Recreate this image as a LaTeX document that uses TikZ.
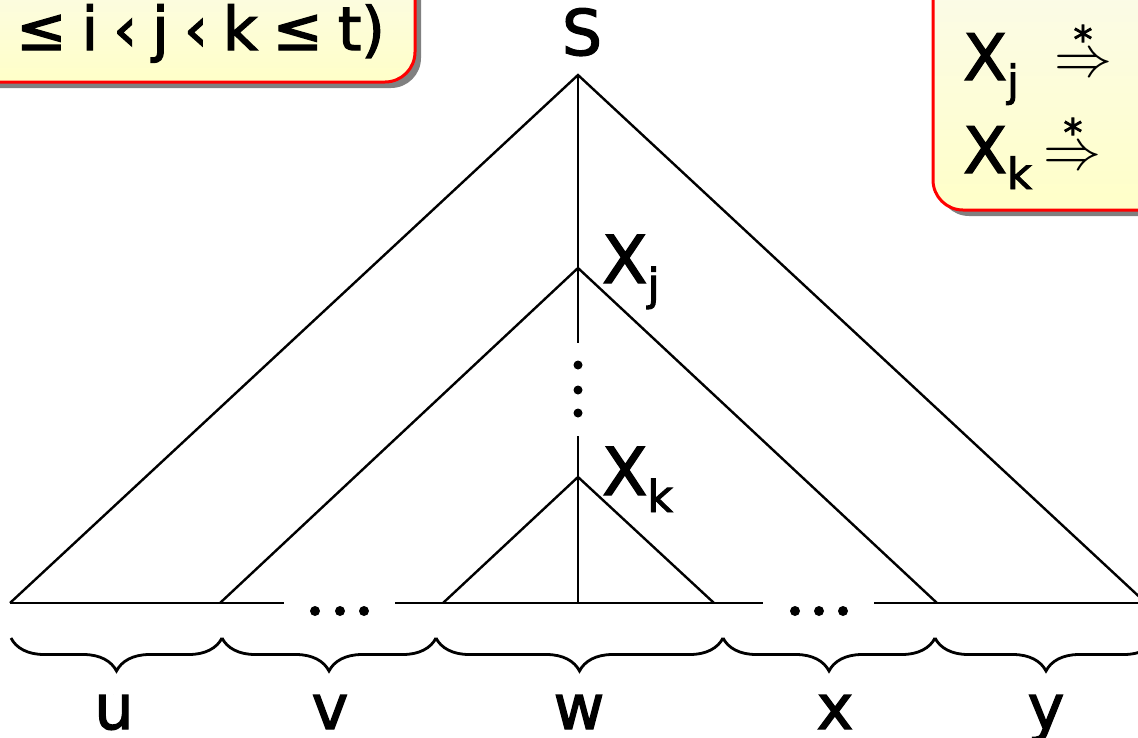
\documentclass[tikz,border=0pt]{standalone}
\usepackage{fontspec}
\setmainfont[FakeBold=2.2]{DejaVu Sans}
\usetikzlibrary{decorations.pathreplacing}
\definecolor{boxtop}{RGB}{250,250,238}
\definecolor{boxbot}{RGB}{255,255,200}
\definecolor{shadowgray}{RGB}{128,128,128}
\newcommand{\derivs}{\raisebox{4pt}{\scalebox{5.8}{\fontsize{10}{12}\selectfont$\Rightarrow$}}\llap{\makebox[58pt][c]{\raisebox{27pt}{\fontsize{38}{38}\selectfont *}}}}
\begin{document}
\begin{tikzpicture}[x=1pt,y=-1pt,
  edge/.style={line width=2.4pt},
  bracepath/.style={line width=2.8pt, decorate, decoration={brace, mirror, amplitude=33pt}},
  dotmark/.style={fill=black},
  lbl/.style={inner sep=0pt, font=\fontsize{62}{62}\selectfont},
  sym/.style={inner sep=0pt, anchor=base west, font=\fontsize{66}{66}\selectfont},
  panel/.style={draw=red, line width=3pt, rounded corners=30pt, top color=boxtop, bottom color=boxbot},
  panelshadow/.style={fill=shadowgray, rounded corners=30pt}]
\useasboundingbox (0,0) rectangle (1138,737);
\clip (0,0) rectangle (1138,737);

% panels
\fill[panelshadow] (-54,-54) rectangle (421,88);
\draw[panel] (-60,-60) rectangle (415,82);
\node[inner sep=0pt, anchor=base east, font=\fontsize{60}{60}\selectfont] (cond) at (385,50)
  {≤\hspace{15pt}i\hspace{15pt}‹\hspace{15pt}j\hspace{15pt}‹\hspace{15pt}k\hspace{15pt}≤\hspace{15pt}t)};

\fill[panelshadow] (939,-54) rectangle (1260,216);
\draw[panel] (933,-60) rectangle (1254,210);
\node[inner sep=0pt, anchor=base west, font=\fontsize{64}{64}\selectfont] (rowj) at (963,80)
  {X\raisebox{-16pt}{\fontsize{43}{43}\selectfont j}\hspace{35pt}\derivs};
\node[inner sep=0pt, anchor=base west, font=\fontsize{64}{64}\selectfont] (rowk) at (963,173)
  {X\raisebox{-16pt}{\fontsize{43}{43}\selectfont k}\hspace{12pt}\derivs};

% tree points
\coordinate (top) at (578,75);
\coordinate (xj) at (578,268);
\coordinate (xk) at (578,477);
\coordinate (A) at (10,603);
\coordinate (B) at (220,603);
\coordinate (C) at (443,603);
\coordinate (M) at (578,603);
\coordinate (D) at (714,603);
\coordinate (E) at (937,603);
\coordinate (F) at (1146,603);
\coordinate (g1) at (284,603);
\coordinate (g2) at (395,603);
\coordinate (g3) at (763,603);
\coordinate (g4) at (874,603);
\coordinate (v1) at (578,343);
\coordinate (v2) at (578,436);

\node[anchor=base, inner sep=0pt, font=\fontsize{63}{63}\selectfont] (S) at (582,55) {S};
\node[sym] (Xj) at (602,283) {X\raisebox{-17pt}{\fontsize{44}{44}\selectfont j}};
\node[sym] (Xk) at (602,495) {X\raisebox{-17pt}{\fontsize{44}{44}\selectfont k}};

% triangles
\draw[edge] (A) -- (top) -- (F);
\draw[edge] (B) -- (xj) -- (E);
\draw[edge] (C) -- (xk) -- (D);
\draw[edge] (top) -- (v1);
\draw[edge] (v2) -- (M);
% base line
\draw[edge] (A) -- (g1);
\draw[edge] (g2) -- (g3);
\draw[edge] (g4) -- (F);

% dots
\foreach \x in {315,340,364} \fill[dotmark] (\x,611) circle (5pt);
\foreach \x in {795,819,843} \fill[dotmark] (\x,611) circle (5pt);
\foreach \y in {365,390,413} \fill[dotmark] (578,\y) circle (4.5pt);

% braces
\coordinate (b0) at (11,638);
\coordinate (b1) at (222,638);
\coordinate (b2) at (436,638);
\coordinate (b3) at (723,638);
\coordinate (b4) at (935,638);
\coordinate (b5) at (1157,638);
\draw[bracepath] (b0) -- (b1);
\draw[bracepath] (b1) -- (b2);
\draw[bracepath] (b2) -- (b3);
\draw[bracepath] (b3) -- (b4);
\draw[bracepath] (b4) -- (b5);

\node[lbl, anchor=base] (u) at (114,729) {u};
\node[lbl, anchor=base] (v) at (330,729) {v};
\node[lbl, anchor=base] (w) at (579,729) {w};
\node[lbl, anchor=base] (x) at (835,729) {x};
\node[lbl, anchor=base] (y) at (1046,729) {y};
\end{tikzpicture}
\end{document}
